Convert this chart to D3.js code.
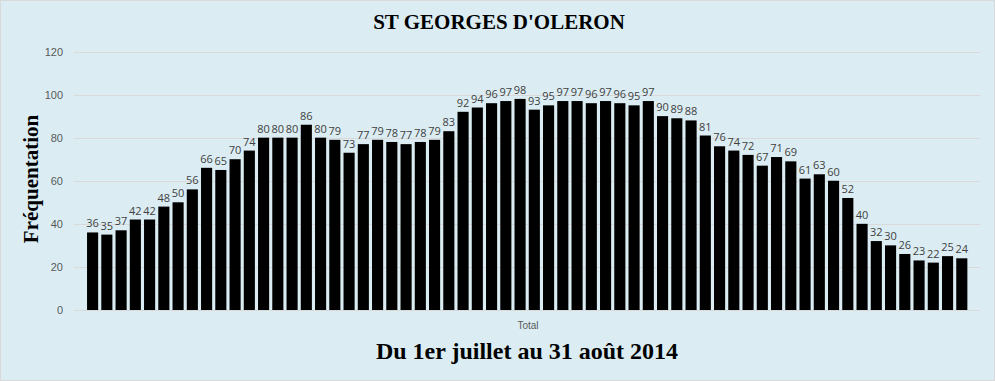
<!DOCTYPE html>
<html><head><meta charset="utf-8">
<script src="https://cdn.jsdelivr.net/npm/d3@7"></script>
<style>
html,body{margin:0;padding:0;background:#fff;}
svg{display:block;}
</style></head>
<body>
<script>
const title = "ST GEORGES D'OLERON";
const xTitle = "Du 1er juillet au 31 août 2014";
const yTitle = "Fréquentation";
const categoryLabel = "Total";
const days = d3.range(1, 63).map(String);
const values = [36,35,37,42,42,48,50,56,66,65,70,74,80,80,80,86,80,79,73,77,79,78,77,78,79,83,92,94,96,97,98,93,95,97,97,96,97,96,95,97,90,89,88,81,76,74,72,67,71,69,61,63,60,52,40,32,30,26,23,22,25,24];
const yTicks = [0,20,40,60,80,100,120];

const W = 995, H = 381;
const svg = d3.select("body").append("svg").attr("width", W).attr("height", H);
svg.append("rect").attr("x",0.5).attr("y",0.5).attr("width",W-1).attr("height",H-1)
  .attr("fill","#DBEDF3").attr("stroke","#D9D9D9");

const y = d3.scaleLinear().domain([0,120]).range([310, 51.5]);
const x = d3.scaleBand().domain(days).range([83.9, 970.5]).paddingInner(0.22).paddingOuter(0.22);

// gridlines
svg.append("g").selectAll("line").data(yTicks).join("line")
  .attr("x1",74).attr("x2",980)
  .attr("y1",d=>Math.round(y(d))+0.5).attr("y2",d=>Math.round(y(d))+0.5)
  .attr("stroke","#D9D9D9").attr("stroke-width",1);

// y axis labels
const yAxis = d3.axisLeft(y).tickValues(yTicks).tickSize(0).tickPadding(0);
const ga = svg.append("g").attr("transform","translate(63,0)").call(yAxis);
ga.select(".domain").remove();
ga.selectAll("text").attr("fill","#595959").style("font-family","'Liberation Sans', Arial, sans-serif").style("font-size","11px");

// bars
svg.append("g").selectAll("rect").data(values).join("rect")
  .attr("x",(d,i)=>x(days[i])).attr("width",x.bandwidth())
  .attr("y",d=>y(d)).attr("height",d=>y(0)-y(d)).attr("fill","#000");

// data labels
svg.append("g").selectAll("text").data(values).join("text")
  .attr("x",(d,i)=>x(days[i])+x.bandwidth()/2).attr("y",d=>y(d)-5)
  .attr("text-anchor","middle").attr("fill","#404040")
  .style("font-family","'Open Sans', 'Liberation Sans', sans-serif").style("font-size","11px")
  .text(d=>d);

// category label
svg.append("text").attr("x",528).attr("y",329).attr("text-anchor","middle")
  .attr("fill","#595959").style("font-family","'Liberation Sans', Arial, sans-serif").style("font-size","10px")
  .text(categoryLabel);

// titles
svg.append("text").attr("x",499).attr("y",29).attr("text-anchor","middle")
  .style("font-family","'Liberation Serif', 'Times New Roman', serif").style("font-weight","bold").style("font-size","21px")
  .attr("fill","#000").text(title);
svg.append("text").attr("x",527).attr("y",359).attr("text-anchor","middle")
  .style("font-family","'Liberation Serif', 'Times New Roman', serif").style("font-weight","bold").style("font-size","24px")
  .attr("fill","#000").text(xTitle);
svg.append("text").attr("transform","translate(38,179) rotate(-90)").attr("text-anchor","middle")
  .style("font-family","'Liberation Serif', 'Times New Roman', serif").style("font-weight","bold").style("font-size","21px")
  .attr("fill","#000").text(yTitle);
</script>
</body></html>
